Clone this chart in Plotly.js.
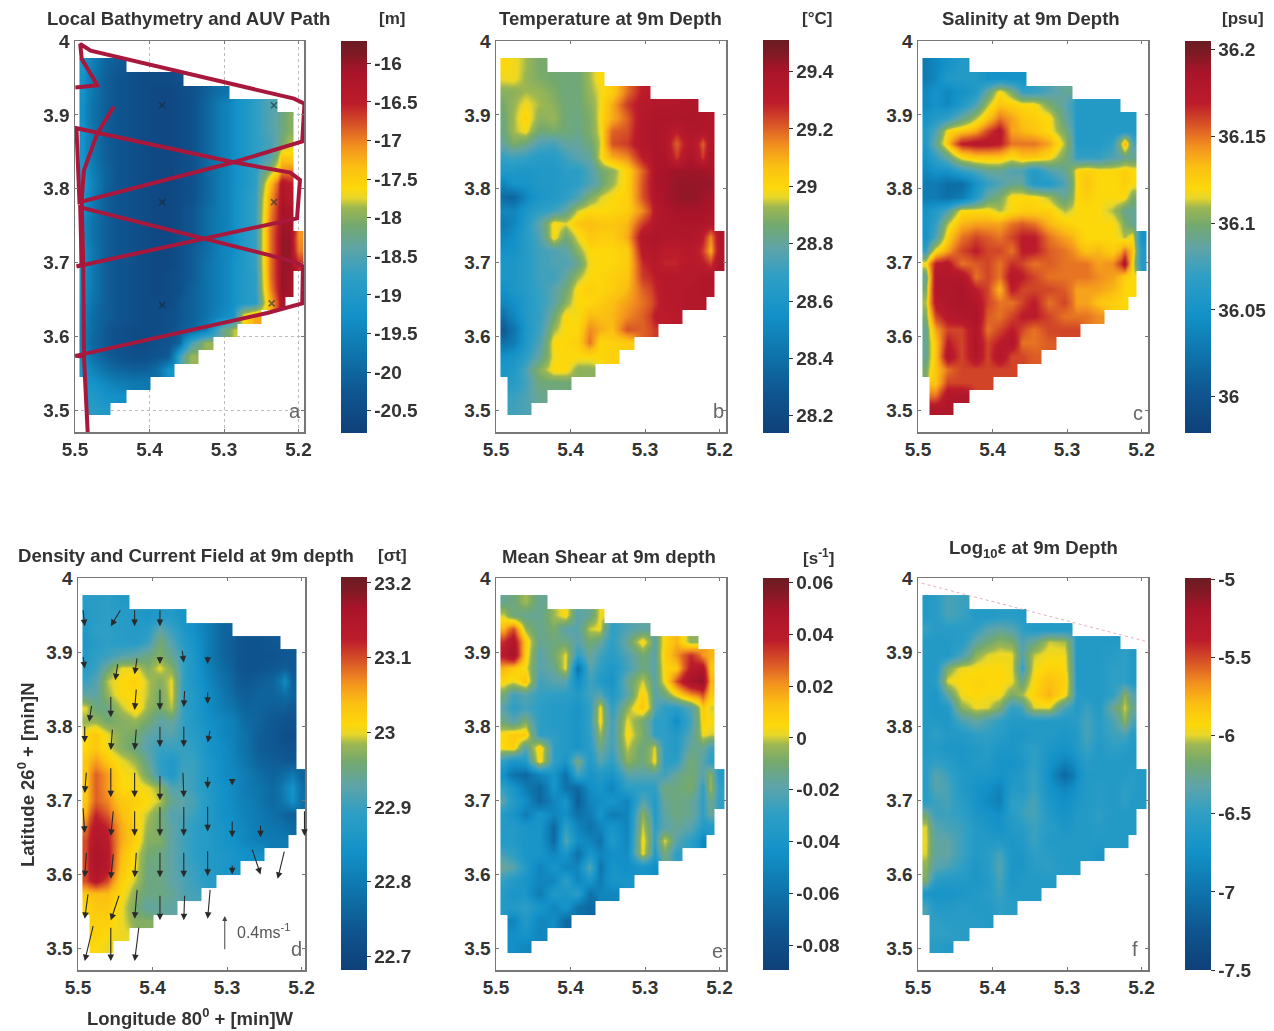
<!DOCTYPE html>
<html><head><meta charset="utf-8">
<script src="https://cdn.plot.ly/plotly-3.0.1.min.js"></script>
<style>html,body{margin:0;padding:0;background:#fff}#plot{width:1274px;height:1031px;filter:blur(.6px)}</style>
</head><body><div id="plot"></div>
<script>
const _ = null;
const lonEdges = [5.494,5.484,5.468,5.452,5.431,5.415,5.399,5.383,5.366,5.355,5.334,5.314,5.293,5.282,5.266,5.250,5.228,5.217,5.207,5.193];
const latEdges = [3.977,3.959,3.941,3.923,3.905,3.887,3.870,3.852,3.834,3.816,3.798,3.780,3.762,3.744,3.726,3.708,3.690,3.673,3.655,3.637,3.619,3.601,3.583,3.565,3.547,3.529,3.511,3.494];

const bathymetry = [
[-19.1,-19.6,-20,-20.2],
[-19.2,-19.7,-20.1,-20.3,-20.4,-20.5,-20.5,-20.5,-20.4],
[-19.2,-19.7,-20.1,-20.3,-20.4,-20.5,-20.6,-20.6,-20.5,-20.4,-20.1,-19.8],
[-19.3,-19.8,-20.1,-20.3,-20.4,-20.5,-20.6,-20.6,-20.5,-20.4,-20,-19.6,-19.3,-19.1,-18.8,-18.5],
[-19.3,-19.8,-20.1,-20.3,-20.4,-20.5,-20.6,-20.6,-20.5,-20.4,-20,-19.6,-19.3,-19.1,-18.8,-18.5,-18.2,-18],
[-19.2,-19.7,-20.1,-20.3,-20.4,-20.5,-20.6,-20.6,-20.5,-20.4,-20,-19.6,-19.3,-19.1,-18.8,-18.5,-18.2,-18],
[-19.2,-19.7,-20.1,-20.3,-20.4,-20.5,-20.6,-20.6,-20.5,-20.4,-20,-19.6,-19.3,-19.1,-18.8,-18.6,-18.1,-17.8],
[-19.2,-19.7,-20.1,-20.3,-20.4,-20.5,-20.6,-20.6,-20.5,-20.4,-20,-19.6,-19.3,-19.1,-18.8,-18.5,-17.4,-17.5],
[-19,-19.6,-20,-20.3,-20.4,-20.5,-20.6,-20.6,-20.5,-20.4,-20,-19.6,-19.3,-19.1,-18.8,-18.0,-17.1,-17],
[-18.9,-19.5,-20,-20.3,-20.4,-20.5,-20.6,-20.6,-20.5,-20.4,-20,-19.6,-19.3,-19.1,-18.8,-17.4,-16.3,-16.5],
[-19,-19.6,-20.1,-20.3,-20.4,-20.5,-20.6,-20.6,-20.5,-20.4,-20,-19.6,-19.3,-19,-18.7,-17.2,-16.2,-16.4],
[-19.2,-19.7,-20.1,-20.3,-20.4,-20.5,-20.6,-20.6,-20.5,-20.3,-19.9,-19.6,-19.3,-19,-18.7,-17.1,-16.1,-16.2],
[-19.3,-19.8,-20.1,-20.3,-20.4,-20.5,-20.6,-20.6,-20.5,-20.3,-19.9,-19.6,-19.3,-19,-18.7,-17,-16.1,-16.1],
[-19.3,-19.8,-20.1,-20.3,-20.4,-20.5,-20.6,-20.6,-20.4,-20.3,-19.9,-19.6,-19.3,-19,-18.7,-17,-16,-16,-17.1],
[-19.2,-19.7,-20.1,-20.3,-20.4,-20.5,-20.6,-20.6,-20.4,-20.2,-19.9,-19.5,-19.3,-19,-18.7,-17,-16,-16,-17],
[-19.1,-19.7,-20.1,-20.3,-20.4,-20.5,-20.6,-20.6,-20.4,-20.2,-19.8,-19.5,-19.2,-19,-18.7,-17,-16,-16,-16.6],
[-19.1,-19.7,-20.1,-20.3,-20.4,-20.5,-20.6,-20.5,-20.4,-20.2,-19.8,-19.5,-19.2,-19,-18.8,-17,-16,-16.1],
[-19.2,-19.7,-20.1,-20.3,-20.4,-20.5,-20.6,-20.5,-20.4,-20.1,-19.8,-19.5,-19.2,-19,-18.8,-17.1,-16,-16.1],
[-19.3,-19.8,-20.1,-20.3,-20.4,-20.5,-20.5,-20.5,-20.3,-20.1,-19.8,-19.5,-19.2,-19,-18.9,-17.3,-16.2],
[-19.4,-19.9,-20.1,-20.3,-20.4,-20.5,-20.5,-20.4,-20.3,-20.1,-19.8,-19.4,-19.1,-17.6,-17.2],
[-19.5,-19.9,-20.2,-20.4,-20.5,-20.5,-20.5,-20.4,-20.2,-20,-19.6,-18.3,-17.8],
[-19.5,-20,-20.2,-20.4,-20.5,-20.5,-20.4,-20.3,-20.1,-18.6,-17.9],
[-19.3,-19.8,-20.1,-20.3,-20.4,-20.4,-20.3,-20.2,-18.7,-17.9],
[-19.1,-19.5,-19.8,-20,-20.1,-20.1,-19.9,-19.2],
[_,-19.2,-19.4,-19.6,-19.7,-19.7],
[_,-19,-19.2,-19.3],
[_,-18.9,-19]
];

const temperature = [
[29.0,28.98,28.93,28.87],
[28.97,28.98,28.92,28.88,28.86,28.85,28.85,28.93,29.0],
[28.9,28.9,28.93,28.92,28.88,28.85,28.85,28.92,28.97,29.03,29.18,29.3],
[28.87,28.92,28.98,28.93,28.9,28.85,28.85,28.9,28.97,29.1,29.25,29.33,29.35,29.35,29.35,29.37],
[28.85,28.93,29.02,28.9,28.92,28.85,28.84,28.88,28.98,29.1,29.2,29.35,29.37,29.37,29.38,29.38,29.37,29.36],
[28.84,28.93,28.98,28.85,28.87,28.85,28.83,28.88,28.97,29.2,29.22,29.35,29.38,29.36,29.3,29.37,29.36,29.36],
[28.8,28.88,28.84,28.75,28.73,28.8,28.8,28.85,28.95,29.22,29.25,29.35,29.38,29.36,29.2,29.35,29.2,29.36],
[28.7,28.72,28.7,28.65,28.65,28.72,28.77,28.8,28.97,29.1,29.15,29.3,29.38,29.38,29.25,29.38,29.25,29.38],
[28.62,28.62,28.6,28.62,28.62,28.67,28.67,28.75,28.85,28.9,29.02,29.2,29.38,29.4,29.42,29.42,29.42,29.4],
[28.5,28.58,28.58,28.62,28.62,28.65,28.68,28.75,28.82,28.92,29.02,29.22,29.38,29.4,29.43,29.43,29.43,29.42],
[28.38,28.35,28.5,28.6,28.63,28.68,28.75,28.88,28.95,28.99,29.02,29.22,29.36,29.4,29.43,29.44,29.42,29.4],
[28.5,28.5,28.6,28.68,28.72,28.8,28.95,29.0,29.0,29.0,29.03,29.15,29.33,29.37,29.4,29.4,29.4,29.38],
[28.45,28.5,28.63,28.78,29,28.96,29.05,29.07,29.05,29.05,29.08,29.25,29.35,29.37,29.38,29.38,29.38,29.36],
[28.5,28.55,28.65,28.75,29,28.85,28.97,29.05,29.03,29.03,29.1,29.35,29.38,29.36,29.36,29.37,29.3,29.15,29.36],
[28.55,28.57,28.65,28.72,28.75,28.78,28.9,29,29,29,29.03,29.32,29.35,29.3,29.3,29.32,29.25,29.1,29.36],
[28.6,28.6,28.65,28.72,28.75,28.75,28.82,28.98,29,29,29.03,29.27,29.33,29.28,29.28,29.33,29.3,29.25,29.38],
[28.6,28.6,28.65,28.72,28.72,28.8,28.92,29,29,29.02,29.05,29.25,29.3,29.33,29.33,29.33,29.36,29.36],
[28.55,28.6,28.65,28.7,28.78,28.85,29,29.02,29,29.03,29.08,29.2,29.27,29.33,29.33,29.35,29.36,29.35],
[28.5,28.55,28.62,28.7,28.78,28.9,29,29,29.03,29.07,29.12,29.18,29.25,29.32,29.33,29.35,29.35],
[28.4,28.5,28.62,28.7,28.85,29,28.98,29.08,29.07,29.08,29.15,29.2,29.3,29.3,29.32],
[28.3,28.42,28.6,28.72,28.92,29,29,29.15,29.1,29.07,29.22,29.2,29.25],
[28.4,28.45,28.62,28.75,29,29,29.02,29.18,29,29.02,29.03],
[28.55,28.58,28.66,28.8,28.98,29,29,29,29,29.02],
[28.6,28.62,28.75,28.9,29,29,28.9,28.9],
[_,28.65,28.72,28.85,28.85,28.85],
[_,28.7,28.75,28.82],
[_,28.72,28.75]
];

const salinity = [
[36.03,36.04,36.05,36.06],
[36.03,36.04,36.06,36.06,36.06,36.05,36.05,36.05,36.05],
[36.04,36.05,36.04,36.05,36.06,36.09,36.12,36.1,36.07,36.07,36.08,36.09],
[36.04,36.05,36.04,36.06,36.08,36.11,36.13,36.125,36.12,36.12,36.1,36.085,36.06,36.06,36.06,36.06],
[36.05,36.06,36.07,36.09,36.11,36.13,36.15,36.14,36.13,36.125,36.12,36.09,36.06,36.06,36.06,36.06,36.06,36.06],
[36.06,36.08,36.12,36.13,36.14,36.16,36.175,36.14,36.135,36.13,36.12,36.1,36.06,36.06,36.06,36.06,36.06,36.06],
[36.06,36.09,36.13,36.17,36.175,36.175,36.17,36.15,36.15,36.15,36.14,36.11,36.06,36.06,36.06,36.07,36.14,36.08],
[36.05,36.07,36.09,36.12,36.13,36.13,36.13,36.12,36.13,36.13,36.12,36.1,36.07,36.07,36.07,36.08,36.09,36.09],
[36.04,36.05,36.05,36.07,36.08,36.09,36.09,36.08,36.08,36.06,36.08,36.09,36.12,36.125,36.12,36.12,36.125,36.12],
[36.03,36.03,36.02,36.02,36.05,36.07,36.08,36.09,36.09,36.06,36.06,36.08,36.12,36.13,36.12,36.12,36.125,36.12],
[36.03,36.03,36.02,36.03,36.06,36.09,36.1,36.12,36.12,36.12,36.11,36.09,36.12,36.125,36.12,36.12,36.12,36.1],
[36.05,36.06,36.08,36.12,36.12,36.12,36.11,36.12,36.125,36.125,36.125,36.11,36.12,36.12,36.12,36.11,36.09,36.09],
[36.05,36.07,36.11,36.135,36.14,36.14,36.14,36.15,36.155,36.15,36.135,36.125,36.12,36.12,36.12,36.12,36.1,36.09],
[36.05,36.08,36.125,36.15,36.16,36.155,36.15,36.16,36.17,36.17,36.15,36.14,36.13,36.12,36.12,36.12,36.11,36.12,36.05],
[36.07,36.12,36.14,36.16,36.17,36.16,36.16,36.15,36.17,36.17,36.155,36.15,36.14,36.13,36.135,36.125,36.15,36.13,36.06],
[36.12,36.17,36.175,36.15,36.155,36.16,36.15,36.165,36.16,36.15,36.155,36.15,36.15,36.15,36.14,36.145,36.18,36.12,36.06],
[36.09,36.18,36.18,36.18,36.15,36.16,36.15,36.175,36.17,36.16,36.15,36.15,36.15,36.15,36.145,36.14,36.125,36.12],
[36.1,36.18,36.18,36.185,36.17,36.16,36.135,36.17,36.16,36.16,36.16,36.155,36.14,36.14,36.14,36.135,36.12,36.12],
[36.11,36.175,36.18,36.185,36.18,36.16,36.15,36.15,36.16,36.17,36.15,36.16,36.14,36.14,36.13,36.125,36.12],
[36.1,36.16,36.175,36.18,36.185,36.155,36.15,36.16,36.17,36.17,36.16,36.15,36.15,36.15,36.145],
[36.09,36.14,36.16,36.16,36.18,36.15,36.16,36.17,36.16,36.15,36.16,36.16,36.16],
[36.09,36.13,36.17,36.16,36.18,36.16,36.17,36.18,36.15,36.15,36.155],
[36.09,36.13,36.18,36.16,36.18,36.16,36.18,36.16,36.16,36.155],
[36.1,36.13,36.15,36.16,36.16,36.16,36.16,36.16],
[_,36.13,36.16,36.16,36.16,36.16],
[_,36.15,36.18,36.18],
[_,36.18,36.18]
];

const density = [
[22.88,22.88,22.89,22.87],
[22.87,22.88,22.89,22.88,22.87,22.86,22.87,22.87,22.85],
[22.87,22.89,22.89,22.88,22.87,22.88,22.93,22.9,22.87,22.84,22.8,22.76],
[22.86,22.88,22.89,22.88,22.88,22.9,22.96,22.92,22.88,22.85,22.8,22.76,22.74,22.73,22.73,22.74],
[22.87,22.89,22.9,22.92,22.93,22.95,22.97,22.94,22.9,22.86,22.8,22.76,22.74,22.73,22.73,22.73,22.74,22.74],
[22.88,22.9,22.95,23,23,22.97,23,22.97,22.9,22.86,22.81,22.77,22.74,22.73,22.73,22.74,22.75,22.74],
[22.9,22.92,22.99,23.01,23.02,22.99,22.97,23,22.9,22.86,22.82,22.78,22.75,22.74,22.75,22.76,22.83,22.75],
[22.93,22.93,22.98,23.01,23.01,22.99,22.96,23,22.9,22.87,22.83,22.79,22.76,22.75,22.76,22.76,22.78,22.76],
[23,22.95,22.95,22.99,23.02,22.98,22.96,22.99,22.9,22.87,22.83,22.8,22.78,22.76,22.76,22.75,22.75,22.74],
[22.98,22.98,22.96,22.97,22.98,22.96,22.93,22.94,22.9,22.87,22.84,22.82,22.8,22.77,22.76,22.74,22.73,22.73],
[23.01,23.03,23.0,22.97,22.96,22.93,22.92,22.92,22.9,22.88,22.85,22.82,22.8,22.78,22.75,22.74,22.72,22.72],
[23.01,23.03,23.0,22.97,22.95,22.92,22.9,22.9,22.9,22.89,22.85,22.83,22.8,22.78,22.75,22.74,22.73,22.73],
[23.03,23.06,23.03,23,22.98,22.94,22.89,22.87,22.9,22.9,22.86,22.83,22.81,22.79,22.76,22.75,22.74,22.74],
[23.03,23.09,23.06,23.01,23,22.96,22.9,22.87,22.91,22.9,22.86,22.83,22.82,22.8,22.78,22.76,22.78,22.8,22.76],
[23.03,23.09,23.06,23.01,23.01,23,22.98,22.92,22.92,22.9,22.87,22.84,22.82,22.8,22.79,22.77,22.81,22.85,22.78],
[23.03,23.09,23.07,23.03,23.02,23.01,22.99,22.94,22.93,22.91,22.87,22.84,22.82,22.81,22.79,22.77,22.8,22.84,22.78],
[23.05,23.12,23.09,23.04,23.01,22.99,22.96,22.92,22.92,22.9,22.87,22.84,22.83,22.81,22.8,22.78,22.76,22.75],
[23.08,23.14,23.12,23.05,23.02,22.98,22.96,22.93,22.91,22.89,22.87,22.85,22.83,22.82,22.8,22.79,22.78,22.77],
[23.1,23.15,23.13,23.05,23.02,22.97,22.97,22.93,22.91,22.89,22.87,22.85,22.84,22.82,22.81,22.8,22.8],
[23.1,23.16,23.14,23.04,23,22.96,22.95,22.93,22.91,22.89,22.87,22.86,22.85,22.84,22.84],
[23.1,23.16,23.14,23.03,23,22.95,22.95,22.93,22.91,22.9,22.87,22.86,22.85],
[23.1,23.14,23.1,23.02,22.99,22.95,22.95,22.93,22.92,22.9,22.88],
[23.03,23.04,23.04,23.01,22.97,22.95,22.95,22.94,22.92,22.91],
[23.01,23.03,23.03,23,22.96,22.93,22.94,22.93],
[_,23.02,23.02,23,22.97,22.97],
[_,23.02,23.01,23.0],
[_,23.01,23.0]
];

const shear = [
[-.015,-.012,-.002,-.015],
[0,-.012,-.015,-.015,-.003,.005,-.02,-.015,.003],
[.015,.03,-.005,-.015,-.008,-.02,-.02,0,.003,-.03,-.022,-.018],
[.035,.045,.01,-.015,-.012,-.012,-.02,-.01,-.015,-.03,-.015,.006,-.02,.006,.015,-.005],
[.04,.05,.008,-.02,-.01,.002,-.03,-.015,-.025,-.032,-.022,-.01,-.02,.008,.02,.035,.02,.015],
[.015,.01,.003,-.02,-.015,.003,-.06,-.02,-.03,-.038,-.025,-.012,-.02,.006,.01,.04,.045,.01],
[.006,.002,.012,-.025,-.02,-.02,-.045,-.025,-.035,-.04,-.015,0,-.02,.004,.03,.05,.055,.015],
[-.01,-.025,-.02,-.028,-.03,-.03,-.035,-.025,-.02,-.035,-.02,.008,-.02,-.012,.005,.02,.03,.01],
[-.02,-.03,-.025,-.03,-.035,-.035,-.04,-.03,.005,-.03,-.005,.012,-.02,-.03,-.032,-.02,.01,0],
[-.012,-.02,-.008,-.03,-.035,-.035,-.04,-.028,.006,-.025,.002,-.01,-.03,-.03,-.045,-.025,.008,.004],
[.005,.01,.01,-.03,-.03,-.035,-.04,-.03,-.003,-.025,.005,-.008,-.03,-.03,-.035,-.02,.003,0],
[.005,.008,-.02,.008,-.03,-.035,-.04,-.032,-.012,-.025,0,-.012,.002,-.03,-.035,-.015,-.015,-.025],
[-.03,-.04,-.035,.006,-.03,-.04,-.01,-.035,-.02,-.03,-.005,-.012,.005,-.03,-.03,-.01,-.02,-.03],
[-.045,-.06,-.065,-.05,-.04,-.06,-.025,-.04,-.035,-.04,-.02,-.02,-.02,-.025,-.015,-.01,-.02,-.005,-.035],
[-.03,-.04,-.055,-.065,-.04,-.06,-.065,-.045,-.04,-.05,-.03,-.03,-.03,-.012,-.012,-.008,-.03,-.002,-.03],
[-.02,-.035,-.045,-.065,-.05,-.04,-.07,-.05,-.045,-.04,-.05,-.02,-.035,-.015,-.012,-.015,-.03,-.012,-.03],
[-.035,-.04,-.055,-.04,-.05,-.045,-.06,-.055,-.04,-.055,-.05,-.005,-.035,-.018,-.012,-.015,-.03,-.015],
[-.035,-.035,-.04,-.04,-.065,-.03,-.05,-.06,-.05,-.04,-.05,0,-.03,-.02,-.015,-.02,-.035,-.035],
[-.035,-.035,-.04,-.04,-.065,-.02,-.045,-.05,-.06,-.035,-.05,.005,-.03,.002,-.02,-.03,-.05],
[-.025,-.03,-.04,-.04,-.05,-.04,-.06,-.04,-.05,-.045,-.045,.003,-.035,-.01,-.03],
[-.015,-.02,-.035,-.05,-.04,-.05,-.05,-.02,-.06,-.04,-.045,-.04,-.045],
[-.03,-.035,-.04,-.05,-.05,-.03,-.05,-.04,-.055,-.04,-.04],
[-.035,-.04,-.04,-.055,-.035,-.04,-.03,-.06,-.05,-.05],
[-.035,-.035,-.03,-.04,-.05,-.04,-.06,-.065],
[_,-.05,-.035,-.05,-.045,-.065],
[_,-.045,-.04,-.05],
[_,-.045,-.05]
];

const logEpsilon = [
[-6.6,-6.55,-6.4,-6.45],
[-6.6,-6.55,-6.4,-6.45,-6.6,-6.6,-6.55,-6.55,-6.6],
[-6.45,-6.55,-6.55,-6.55,-6.5,-6.35,-6.3,-6.35,-6.5,-6.6,-6.6,-6.6],
[-6.6,-6.6,-6.6,-6.55,-6.3,-6.2,-6.1,-6.15,-6.4,-6.25,-6.02,-6.05,-6.6,-6.6,-6.6,-6.6],
[-6.6,-6.6,-6.6,-6.4,-6.1,-6,-5.97,-5.98,-6.35,-6.02,-5.95,-5.96,-6.6,-6.6,-6.6,-6.55,-6.5,-6.6],
[-6.6,-6.6,-6.15,-5.97,-5.95,-5.93,-5.93,-5.97,-6.5,-5.96,-5.9,-5.93,-6.6,-6.6,-6.6,-6.5,-6.5,-6.6],
[-6.6,-6.55,-5.98,-5.93,-5.9,-5.92,-5.92,-5.97,-6.25,-5.93,-5.8,-5.88,-6.6,-6.6,-6.6,-6.5,-6.5,-6.6],
[-6.6,-6.65,-6.3,-5.96,-5.92,-5.95,-5.95,-6.15,-6.05,-5.9,-5.75,-5.93,-6.55,-6.6,-6.6,-6.5,-6.1,-6.35],
[-6.6,-6.65,-6.6,-6.1,-5.98,-6,-6.15,-6.5,-6.4,-6,-5.98,-6.4,-6.6,-6.45,-6.6,-6.25,-6,-6.25],
[-6.6,-6.6,-6.65,-6.4,-6.3,-6.4,-6.5,-6.6,-6.6,-6.6,-6.6,-6.6,-6.55,-6.4,-6.55,-6.4,-6.1,-6.4],
[-6.6,-6.5,-6.6,-6.6,-6.5,-6.5,-6.55,-6.65,-6.65,-6.6,-6.6,-6.65,-6.6,-6.4,-6.55,-6.45,-6.4,-6.55],
[-6.6,-6.6,-6.65,-6.65,-6.6,-6.55,-6.65,-6.65,-6.6,-6.5,-6.65,-6.7,-6.6,-6.45,-6.6,-6.5,-6.55,-6.6],
[-6.55,-6.5,-6.55,-6.65,-6.6,-6.6,-6.7,-6.7,-6.65,-6.5,-6.7,-6.85,-6.7,-6.55,-6.6,-6.6,-6.6,-6.6],
[-6.55,-6.35,-6.45,-6.6,-6.65,-6.65,-6.7,-6.65,-6.6,-6.45,-6.75,-7.1,-6.8,-6.6,-6.6,-6.6,-6.6,-6.55,-6.6],
[-6.55,-6.35,-6.4,-6.6,-6.7,-6.75,-6.85,-6.6,-6.6,-6.45,-6.7,-6.85,-6.7,-6.6,-6.55,-6.6,-6.5,-6.55,-6.6],
[-6.55,-6.45,-6.4,-6.55,-6.7,-6.8,-6.9,-6.5,-6.5,-6.4,-6.65,-6.75,-6.65,-6.6,-6.55,-6.6,-6.5,-6.6,-6.6],
[-6.2,-6.45,-6.45,-6.5,-6.65,-6.7,-6.75,-6.55,-6.45,-6.4,-6.6,-6.7,-6.6,-6.6,-6.5,-6.6,-6.6,-6.6],
[-6,-6.35,-6.4,-6.45,-6.6,-6.65,-6.7,-6.6,-6.55,-6.45,-6.55,-6.65,-6.6,-6.6,-6.55,-6.6,-6.6,-6.6],
[-5.98,-6.3,-6.3,-6.45,-6.6,-6.6,-6.6,-6.65,-6.6,-6.45,-6.6,-6.6,-6.6,-6.6,-6.6,-6.6,-6.6],
[-6,-6.3,-6.3,-6.45,-6.6,-6.55,-6.4,-6.65,-6.65,-6.5,-6.55,-6.6,-6.6,-6.6,-6.65],
[-6.1,-6.35,-6.4,-6.5,-6.65,-6.55,-6.35,-6.65,-6.65,-6.55,-6.5,-6.6,-6.6],
[-6.15,-6.55,-6.6,-6.6,-6.65,-6.6,-6.4,-6.65,-6.6,-6.6,-6.6],
[-6.65,-6.7,-6.7,-6.65,-6.6,-6.55,-6.45,-6.6,-6.6,-6.6],
[-6.4,-6.6,-6.6,-6.55,-6.6,-6.6,-6.5,-6.55],
[_,-6.5,-6.55,-6.55,-6.55,-6.6],
[_,-6.5,-6.5,-6.55],
[_,-6.55,-6.6]
];

const pathLon = [5.483,5.488,5.4995,5.242,5.195,5.194,5.206,5.238,5.493,5.491,5.498,5.238,5.202,5.198,5.211,5.287,5.493,5.498,5.494,5.287,5.195,5.192,5.206,5.479,5.493,5.491,5.470,5.4995,null,5.448,5.470,5.488,5.491,5.489,5.488];
const pathLat = [3.471,3.573,3.574,3.632,3.645,3.695,3.701,3.710,3.775,3.697,3.695,3.751,3.760,3.812,3.822,3.836,3.882,3.882,3.782,3.836,3.864,3.915,3.922,3.987,3.996,3.976,3.940,3.937,null,3.911,3.875,3.825,3.785,3.700,3.573];
const crossLon = [5.383,5.233,5.383,5.233,5.383,5.236];
const crossLat = [3.913,3.913,3.782,3.782,3.643,3.645];

const quiverLon = [5.491,5.456,5.424,5.390, 5.491,5.450,5.424,5.390,5.358,5.326, 5.485,5.456,5.424,5.390,5.358,5.326, 5.491,5.456,5.424,5.390,5.358,5.326, 5.491,5.456,5.424,5.390,5.358,5.326,5.293, 5.491,5.456,5.424,5.390,5.358,5.326,5.293,5.255,5.196, 5.491,5.456,5.424,5.390,5.358,5.326,5.293,5.255,5.232, 5.491,5.456,5.424,5.390,5.358,5.326, 5.491,5.456,5.424];
const quiverLat = [3.935,3.935,3.935,3.935, 3.878,3.862,3.870,3.884,3.886,3.884, 3.806,3.812,3.822,3.822,3.826,3.830, 3.778,3.768,3.768,3.772,3.772,3.778, 3.710,3.704,3.704,3.700,3.704,3.716,3.720, 3.656,3.652,3.652,3.652,3.652,3.658,3.650,3.650,3.652, 3.596,3.594,3.596,3.596,3.596,3.598,3.600,3.600,3.594, 3.540,3.538,3.540,3.538,3.538,3.540, 3.483,3.483,3.483];
const quiverU = [.02,-.12,0,0, .02,-.03,-.03,0,.02,0, -.03,0,-.02,0,-.01,0, 0,-.02,-.02,0,0,-.03, -.02,0,0,0,.01,0,0, .02,-.03,0,0,0,0,0,0,0, -.02,-.03,-.02,0,0,0,0,.1,-.08, -.04,-.1,-.03,0,-.01,-.03, -.1,0,-.05];
const quiverV = [-.2,-.2,-.2,-.2, -.15,-.2,-.2,-.1,-.15,-.1, -.2,-.25,-.25,-.25,-.2,-.15, -.2,-.25,-.25,-.25,-.25,-.15, -.25,-.35,-.3,-.3,-.3,-.15,-.08, -.3,-.3,-.3,-.35,-.35,-.3,-.2,-.15,-.3, -.3,-.3,-.3,-.3,-.3,-.3,-.12,-.3,-.33, -.3,-.3,-.35,-.3,-.3,-.35, -.42,-.4,-.4];
const quiverScale = 0.1175;
const refArrowLon = 5.303, refArrowLat = 3.544, refArrowV = 0.4;

const topLineLon = [5.495,5.192];
const topLineLat = [3.993,3.914];

const lonTicks = [5.5,5.4,5.3,5.2];
const lonLabels = ['5.5','5.4','5.3','5.2'];
const latTicks = [3.5,3.6,3.7,3.8,3.9,4];
const latLabels = ['3.5','3.6','3.7','3.8','3.9','4'];

const depthTicks = [-20.5,-20,-19.5,-19,-18.5,-18,-17.5,-17,-16.5,-16];
const depthLabels = ['-20.5','-20','-19.5','-19','-18.5','-18','-17.5','-17','-16.5','-16'];
const tempTicks = [28.2,28.4,28.6,28.8,29,29.2,29.4];
const tempLabels = ['28.2','28.4','28.6','28.8','29','29.2','29.4'];
const salTicks = [36,36.05,36.1,36.15,36.2];
const salLabels = ['36','36.05','36.1','36.15','36.2'];
const densTicks = [22.7,22.8,22.9,23,23.1,23.2];
const densLabels = ['22.7','22.8','22.9','23','23.1','23.2'];
const shearTicks = [-.08,-.06,-.04,-.02,0,.02,.04,.06];
const shearLabels = ['-0.08','-0.06','-0.04','-0.02','0','0.02','0.04','0.06'];
const epsTicks = [-7.5,-7,-6.5,-6,-5.5,-5];
const epsLabels = ['-7.5','-7','-6.5','-6','-5.5','-5'];

const colors = [[0,'#0f4079'],[.1,'#0f5590'],[.2,'#0e74ab'],[.3,'#1291c8'],[.4,'#2f9fc5'],[.47,'#5fa4a8'],[.53,'#74a96e'],[.575,'#9db752'],[.6,'#e8d72a'],[.625,'#fdd80a'],[.68,'#fbbf12'],[.73,'#f3921f'],[.78,'#db5a26'],[.84,'#bd1c2b'],[.92,'#a9142a'],[.97,'#7d1a24'],[1,'#6b1c22']];

const W = 1274, H = 1031, FONT = 'Liberation Sans, Arial, sans-serif', INK = '#333', FRAME = '#777';
const panels = [
 {z:bathymetry,  zr:[-20.79,-15.71], t:depthTicks, l:depthLabels, fx:[75,304],    fy:[41,432],  cb:[341,41,392],  title:'Local Bathymetry and AUV Path', tx:188, ty:19, unit:'[m]',  ux:392, uy:19,  letter:'a', lx:295, ly:411},
 {z:temperature, zr:[28.14,29.51],   t:tempTicks,  l:tempLabels,  fx:[496,726],   fy:[41,432],  cb:[763,40,393],  title:'Temperature at 9m Depth',       tx:610, ty:19, unit:'[°C]', ux:817, uy:19,  letter:'b', lx:718, ly:411},
 {z:salinity,    zr:[35.979,36.205], t:salTicks,   l:salLabels,   fx:[918,1148],  fy:[41,432],  cb:[1185,41,392], title:'Salinity at 9m Depth',          tx:1031,ty:19, unit:'[psu]',ux:1243,uy:19,  letter:'c', lx:1138,ly:413},
 {z:density,     zr:[22.682,23.208], t:densTicks,  l:densLabels,  fx:[78,305],    fy:[578,970], cb:[341,577,393], title:'Density and Current Field at 9m depth', tx:186, ty:555, unit:'[σt]', ux:392, uy:555, letter:'d', lx:296, ly:949},
 {z:shear,       zr:[-.0896,.0617],  t:shearTicks, l:shearLabels, fx:[496,726],   fy:[578,970], cb:[763,578,392], title:'Mean Shear at 9m depth',        tx:609, ty:556, unit:'[s<sup>-1</sup>]', ux:818, uy:557, letter:'e', lx:717, ly:951},
 {z:logEpsilon,  zr:[-7.5,-4.99],    t:epsTicks,   l:epsLabels,   fx:[918,1148],  fy:[578,970], cb:[1185,578,392],title:'Log<sub>10</sub>ε at 9m Depth', tx:1033,ty:549, unit:'', ux:0, uy:0, letter:'f', lx:1135,ly:949}
];

const pad = r => Array.from({length: lonEdges.length-1}, (v,i) => (r[i]===undefined ? null : r[i]));
const traces = [], annotations = [];
const tickFont = {family:FONT,size:19,color:INK,weight:700};
const layout = {width:W, height:H, margin:{l:0,r:0,t:0,b:0}, paper_bgcolor:'#fff', plot_bgcolor:'#fff', showlegend:false, font:{family:FONT,color:INK,size:19}};
const txt = (text,x,y,size,extra) => Object.assign({text, x:x/W, y:1-y/H, xref:'paper', yref:'paper', xanchor:'center', yanchor:'middle', showarrow:false, font:{family:FONT,size,color:INK,weight:700}}, extra||{});

panels.forEach((p,i) => {
  const n = i ? String(i+1) : '';
  const grid = i === 0;
  layout['xaxis'+n] = {domain:[p.fx[0]/W,p.fx[1]/W], range:[5.5, 5.5-(p.fx[1]-p.fx[0])/745], anchor:'y'+n, tickvals:lonTicks, ticktext:lonLabels, ticks:'inside', ticklen:3, tickcolor:FRAME, showline:true, mirror:'ticks', linecolor:FRAME, linewidth:1.5, showgrid:grid, gridcolor:'#bbb', griddash:'dot', gridwidth:1, zeroline:false, tickfont:tickFont, layer:'above traces'};
  layout['yaxis'+n] = {domain:[1-p.fy[1]/H,1-p.fy[0]/H], range:[3.471,4], anchor:'x'+n, tickvals:latTicks, ticktext:latLabels, ticks:'inside', ticklen:3, tickcolor:FRAME, showline:true, mirror:'ticks', linecolor:FRAME, linewidth:1.5, showgrid:grid, gridcolor:'#bbb', griddash:'dot', gridwidth:1, zeroline:false, tickfont:tickFont, layer:'above traces'};
  traces.push({type:'heatmap', x:lonEdges, y:latEdges.slice().reverse(), z:p.z.map(pad).reverse(), xaxis:'x'+n, yaxis:'y'+n, zmin:p.zr[0], zmax:p.zr[1], colorscale:colors, zsmooth:'best', hoverinfo:'skip',
    colorbar:{xref:'paper', yref:'paper', x:p.cb[0]/W, xanchor:'left', xpad:0, y:1-p.cb[1]/H, yanchor:'top', ypad:0, thickness:26, thicknessmode:'pixels', len:p.cb[2], lenmode:'pixels', outlinewidth:0, tickmode:'array', tickvals:p.t, ticktext:p.l, ticks:'outside', ticklen:4, tickcolor:INK, tickfont:tickFont}});
  annotations.push(txt(p.title,p.tx,p.ty,18.6));
  if (p.unit) annotations.push(txt(p.unit,p.ux,p.uy,17));
  annotations.push(txt(p.letter,p.lx,p.ly,20,{font:{family:FONT,size:20,color:'#666'}}));
});

traces.push({type:'scatter', mode:'lines', x:pathLon, y:pathLat, xaxis:'x', yaxis:'y', line:{color:'#a8183c',width:4}, hoverinfo:'skip'});
traces.push({type:'scatter', mode:'markers', x:crossLon, y:crossLat, xaxis:'x', yaxis:'y', opacity:.6, marker:{symbol:'x-thin',size:6,line:{color:'#1c2a3a',width:1.5}}, hoverinfo:'skip'});
traces.push({type:'scatter', mode:'lines', x:topLineLon, y:topLineLat, xaxis:'x6', yaxis:'y6', line:{color:'#e8b0b8',width:1,dash:'dot'}, hoverinfo:'skip'});

quiverLon.forEach((lon,i) => {
  annotations.push({xref:'x4', yref:'y4', axref:'x4', ayref:'y4', x:lon, y:quiverLat[i], ax:lon + quiverU[i]*quiverScale, ay:quiverLat[i] - quiverV[i]*quiverScale, text:'', showarrow:true, arrowhead:2, arrowsize:1.2, arrowwidth:1.1, arrowcolor:'#2a2a2a'});
});
annotations.push({xref:'x4', yref:'y4', axref:'x4', ayref:'y4', x:refArrowLon, y:refArrowLat, ax:refArrowLon, ay:refArrowLat - refArrowV*quiverScale, text:'', showarrow:true, arrowhead:2, arrowsize:1, arrowwidth:1, arrowcolor:'#444'});
annotations.push(txt('0.4ms<sup>-1</sup>',264,931,16,{font:{family:FONT,size:16,color:'#555'}}));
annotations.push(txt('Longitude 80<sup>0</sup> + [min]W',190,1017,18.5));
annotations.push(txt('Latitude 26<sup>0</sup> + [min]N',26,775,18.5,{textangle:-90}));
layout.annotations = annotations;

Plotly.newPlot('plot', traces, layout, {displayModeBar:false, staticPlot:true});
</script></body></html>
